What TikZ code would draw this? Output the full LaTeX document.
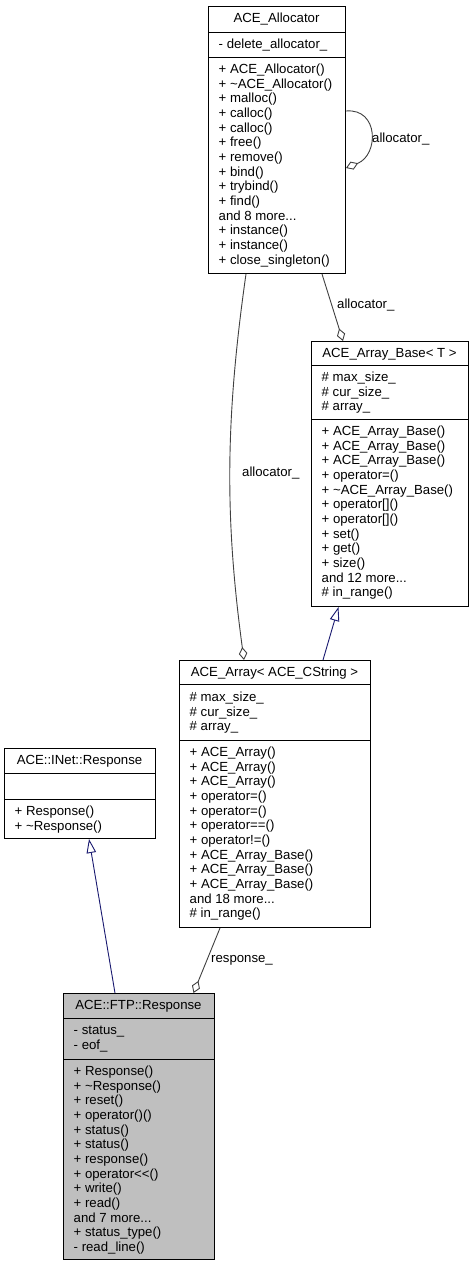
\documentclass[tikz,border=0pt]{standalone}
\usepackage{fontspec}
\setmainfont{Liberation Sans}
\usetikzlibrary{arrows.meta,calc}
\definecolor{edgegray}{HTML}{404040}
\definecolor{inhblue}{HTML}{191970}
\definecolor{boxgray}{HTML}{BFBFBF}
\newcommand{\fst}{\rule{0pt}{10.5pt}}
\newcommand{\tl}{\textasciitilde}
\tikzset{
  cls/.style={draw=black, line width=1pt, inner sep=0pt, anchor=north west},
  sep/.style={draw=black, line width=1pt},
  rows/.style={anchor=north west, inner sep=0pt, align=left, font=\fontsize{13.2}{14.64}\selectfont},
  ttl/.style={anchor=base, inner sep=0pt, font=\fontsize{13.2}{14.64}\selectfont},
  lbl/.style={anchor=base west, inner sep=0pt, font=\fontsize{13.2}{14.64}\selectfont},
  agg/.style={draw=edgegray, line width=0.9pt},
  aggstart/.style={agg, {Diamond[open, length=13pt, width=8.5pt, line width=0.9pt]}-},
  aggend/.style={agg, -{Diamond[open, length=13pt, width=8.5pt, line width=0.9pt]}},
  inh/.style={draw=inhblue, line width=0.9pt, -{Triangle[open, length=14pt, width=9.5pt, line width=0.9pt]}}
}
\begin{document}
\begin{tikzpicture}[x=1pt, y=-1pt]
\useasboundingbox[fill=white] (0,0) rectangle (473,1267);

% ACE_Allocator
\node[cls, minimum width=137pt, minimum height=267pt] (alloc) at (208,6) {};
\draw[sep] (208,32) -- (345,32);
\draw[sep] (208,57) -- (345,57);
\node[ttl] (allocT) at (276.5,22.5) {ACE\_Allocator};
\node[rows] (allocA) at (218.5,38) {\fst- delete\_allocator\_};
\node[rows] (allocM) at (218.5,63) {\fst+ ACE\_Allocator()\\+ \tl ACE\_Allocator()\\+ malloc()\\+ calloc()\\+ calloc()\\+ free()\\+ remove()\\+ bind()\\+ trybind()\\+ find()\\and 8 more...\\+ instance()\\+ instance()\\+ close\_singleton()};

% ACE_Array_Base
\node[cls, minimum width=157pt, minimum height=265pt] (abase) at (311,341) {};
\draw[sep] (311,365) -- (468,365);
\draw[sep] (311,419) -- (468,419);
\node[ttl] (abaseT) at (389.5,357.5) {ACE\_Array\_Base< T >};
\node[rows] (abaseA) at (321.5,371) {\fst\# max\_size\_\\\# cur\_size\_\\\# array\_};
\node[rows] (abaseM) at (321.5,425) {\fst+ ACE\_Array\_Base()\\+ ACE\_Array\_Base()\\+ ACE\_Array\_Base()\\+ operator=()\\+ \tl ACE\_Array\_Base()\\+ operator[]()\\+ operator[]()\\+ set()\\+ get()\\+ size()\\and 12 more...\\\# in\_range()};

% ACE_Array
\node[cls, minimum width=191pt, minimum height=267pt] (arr) at (179,660) {};
\draw[sep] (179,684) -- (370,684);
\draw[sep] (179,740) -- (370,740);
\node[ttl] (arrT) at (274.5,676.5) {ACE\_Array< ACE\_CString >};
\node[rows] (arrA) at (189.5,691) {\fst\# max\_size\_\\\# cur\_size\_\\\# array\_};
\node[rows] (arrM) at (189.5,746) {\fst+ ACE\_Array()\\+ ACE\_Array()\\+ ACE\_Array()\\+ operator=()\\+ operator=()\\+ operator==()\\+ operator!=()\\+ ACE\_Array\_Base()\\+ ACE\_Array\_Base()\\+ ACE\_Array\_Base()\\and 18 more...\\\# in\_range()};

% ACE::INet::Response
\node[cls, minimum width=151pt, minimum height=90pt] (inet) at (4,748) {};
\draw[sep] (4,773) -- (155,773);
\draw[sep] (4,799) -- (155,799);
\node[ttl] (inetT) at (79.5,764.5) {ACE::INet::Response};
\node[rows] (inetM) at (14.5,805) {\fst+ Response()\\+ \tl Response()};

% ACE::FTP::Response
\node[cls, fill=boxgray, minimum width=151pt, minimum height=266pt] (ftp) at (63,993) {};
\draw[sep] (63,1018) -- (214,1018);
\draw[sep] (63,1059) -- (214,1059);
\node[ttl] (ftpT) at (138.5,1009.5) {ACE::FTP::Response};
\node[rows] (ftpA) at (73.5,1024) {\fst- status\_\\- eof\_};
\node[rows] (ftpM) at (73.5,1065) {\fst+ Response()\\+ \tl Response()\\+ reset()\\+ operator()()\\+ status()\\+ status()\\+ response()\\+ operator<{}<()\\+ write()\\+ read()\\and 7 more...\\+ status\_type()\\- read\_line()};

% connectors
\draw[aggstart] ($(alloc.north east)+(0,162)$) .. controls +(33,-13) and +(33,-3) .. ($(alloc.north east)+(0,105)$);
\node[lbl] (l1) at (372,142.5) {allocator\_};

\draw[aggend] ($(alloc.south west)+(114,0)$) -- ($(abase.north west)+(32,0)$);
\node[lbl] (l2) at (337,308) {allocator\_};

\draw[aggend] ($(alloc.south west)+(38,0)$) .. controls +(-21,147) and +(-19,-140) .. ($(arr.north west)+(65,0)$);
\node[lbl] (l3) at (242,476) {allocator\_};

\draw[inh] ($(arr.north west)+(144,0)$) -- ($(abase.south west)+(27.5,0)$);

\draw[inh] ($(ftp.north west)+(52,0)$) -- ($(inet.south west)+(85,0)$);

\draw[aggend] ($(arr.south west)+(41,0)$) -- ($(ftp.north west)+(130.5,0)$);
\node[lbl] (l4) at (211,962) {response\_};
\end{tikzpicture}
\end{document}
